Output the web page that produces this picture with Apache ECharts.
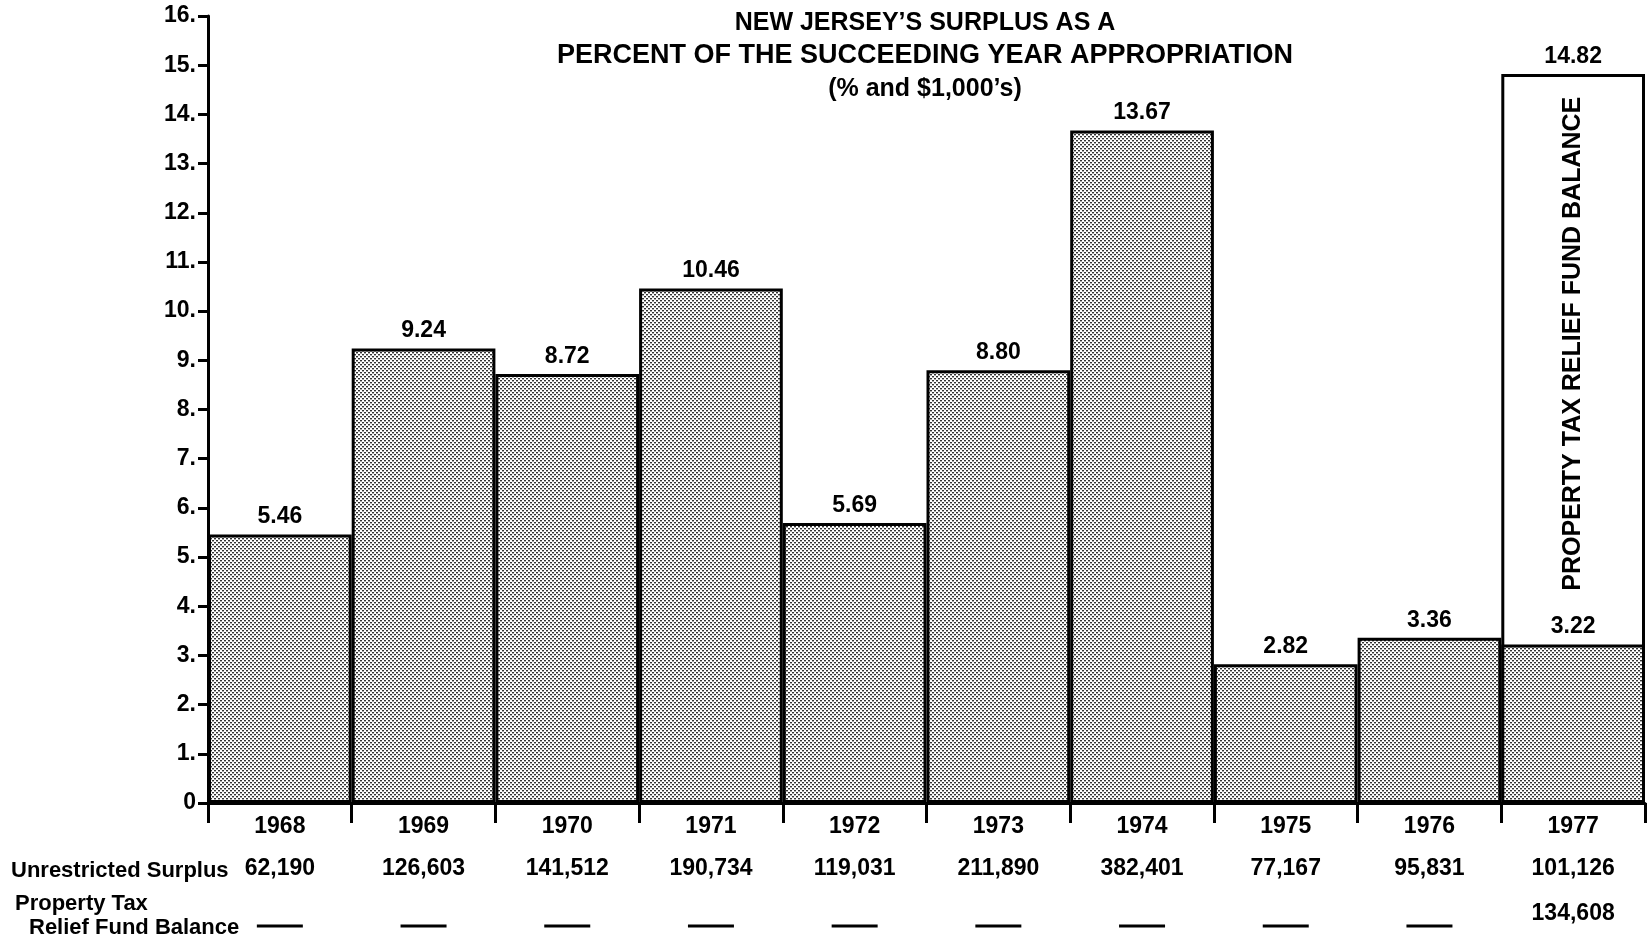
<!DOCTYPE html>
<html lang="en">
<head>
    <meta charset="UTF-8">
    <title>New Jersey surplus</title>
    <script type="text/javascript" src="https://cdn.jsdelivr.net/npm/echarts@6/dist/echarts.min.js"></script>
</head>
<body style="margin:0;background:#fff;">
    <div id="main" style="width:1648px;height:942px;"></div>
<script>
    // data
    var years = ['1968', '1969', '1970', '1971', '1972', '1973', '1974', '1975', '1976', '1977'];
    var surplusPct = [5.46, 9.24, 8.72, 10.46, 5.69, 8.80, 13.67, 2.82, 3.36, 3.22];
    var totalPct = [null, null, null, null, null, null, null, null, null, 14.82];
    var surplusAmt = ['62,190', '126,603', '141,512', '190,734', '119,031', '211,890', '382,401', '77,167', '95,831', '101,126'];
    var reliefAmt = [null, null, null, null, null, null, null, null, null, '134,608'];

    var FONT = '"Liberation Sans", Arial, Helvetica, sans-serif';

    // stipple fill like the printed dot screen
    function dotPattern() {
        var c = document.createElement('canvas');
        c.width = 4; c.height = 4;
        var g = c.getContext('2d');
        g.fillStyle = '#fff';
        g.fillRect(0, 0, 4, 4);
        g.fillStyle = '#333';
        g.fillRect(0, 0, 2, 1);
        g.fillRect(2, 2, 2, 1);
        g.fillStyle = '#aaa';
        g.fillRect(0, 1, 2, 1);
        g.fillRect(2, 3, 2, 1);
        return c;
    }

    var chart = echarts.init(document.getElementById('main'));

    var option = {
        animation: false,
        backgroundColor: '#fff',
        grid: { left: 208, right: 3, top: 16, bottom: 139 },
        xAxis: {
            type: 'category',
            data: years,
            boundaryGap: true,
            axisLine: { lineStyle: { color: '#000', width: 3 } },
            axisTick: { show: true, length: 20, lineStyle: { color: '#000', width: 3 } },
            axisLabel: {
                interval: 0,
                margin: 9,
                color: '#000',
                fontFamily: FONT,
                formatter: function (v, i) {
                    var third = reliefAmt[i] ? '{v|' + reliefAmt[i] + '}' : '{d| }';
                    return '{y|' + v + '}\n{s|' + surplusAmt[i] + '}\n' + third;
                },
                rich: {
                    y: { fontSize: 23, fontWeight: 'bold', fontFamily: FONT, color: '#000', lineHeight: 30 },
                    s: { fontSize: 23, fontWeight: 'bold', fontFamily: FONT, color: '#000', lineHeight: 54 },
                    v: { fontSize: 23, fontWeight: 'bold', fontFamily: FONT, color: '#000', lineHeight: 36 },
                    d: { width: 46, height: 3, backgroundColor: '#000', lineHeight: 60 }
                }
            },
            splitLine: { show: false }
        },
        yAxis: {
            type: 'value',
            min: 0,
            max: 16,
            interval: 1,
            axisLine: { show: true, lineStyle: { color: '#000', width: 3 } },
            axisTick: { show: true, length: 10, lineStyle: { color: '#000', width: 3 } },
            axisLabel: {
                margin: 12,
                color: '#000',
                fontSize: 23,
                fontWeight: 'bold',
                fontFamily: FONT,
                formatter: function (v) { return v === 0 ? '0' : v + '.'; }
            },
            splitLine: { show: false }
        },
        series: [
            {
                name: 'total',
                type: 'bar',
                data: totalPct,
                barCategoryGap: '0%',
                barGap: '-100%',
                itemStyle: { color: '#fff', borderColor: '#000', borderWidth: 3 },
                label: {
                    show: true, position: 'top', distance: 6,
                    color: '#000', fontSize: 23, fontWeight: 'bold', fontFamily: FONT,
                    formatter: function (p) { return p.value.toFixed(2); }
                },
                z: 1
            },
            {
                name: 'surplus',
                type: 'bar',
                data: surplusPct,
                barCategoryGap: '0%',
                barGap: '-100%',
                itemStyle: { color: { image: dotPattern(), repeat: 'repeat' }, borderColor: '#000', borderWidth: 3 },
                label: {
                    show: true, position: 'top', distance: 6,
                    color: '#000', fontSize: 23, fontWeight: 'bold', fontFamily: FONT,
                    formatter: function (p) { return p.value.toFixed(2); }
                },
                z: 2
            },
            {
                name: 'box text',
                type: 'bar',
                data: totalPct,
                barCategoryGap: '0%',
                barGap: '-100%',
                itemStyle: { color: 'rgba(0,0,0,0)', borderWidth: 0 },
                label: {
                    show: true,
                    position: ['50%', '37%'],
                    rotate: 90,
                    align: 'center',
                    verticalAlign: 'middle',
                    color: '#000', fontSize: 25, fontWeight: 'bold', fontFamily: FONT,
                    formatter: 'PROPERTY TAX RELIEF FUND BALANCE'
                },
                z: 3
            }
        ],
        graphic: [
            {
                type: 'text', x: 925, y: 6, z: 10,
                style: {
                    text: '{a|NEW JERSEY\u2019S SURPLUS AS A}\n{b|PERCENT OF THE SUCCEEDING YEAR APPROPRIATION}\n{a|(% and $1,000\u2019s)}',
                    font: 'bold 25px ' + FONT, fill: '#000',
                    textAlign: 'center', align: 'center', lineHeight: 34,
                    rich: {
                        a: { fontSize: 25, fontWeight: 'bold', fontFamily: FONT, lineHeight: 34 },
                        b: { fontSize: 27, fontWeight: 'bold', fontFamily: FONT, lineHeight: 32 }
                    }
                }
            },
            {
                type: 'text', x: 11, y: 871, z: 10,
                style: { text: 'Unrestricted Surplus', font: 'bold 22px ' + FONT, fill: '#000', verticalAlign: 'middle', textVerticalAlign: 'middle' }
            },
            {
                type: 'text', x: 15, y: 904, z: 10,
                style: { text: 'Property Tax', font: 'bold 22px ' + FONT, fill: '#000', verticalAlign: 'middle', textVerticalAlign: 'middle' }
            },
            {
                type: 'text', x: 29, y: 928, z: 10,
                style: { text: 'Relief Fund Balance', font: 'bold 22px ' + FONT, fill: '#000', verticalAlign: 'middle', textVerticalAlign: 'middle' }
            }
        ]
    };

    chart.setOption(option);
</script>
</body>
</html>
